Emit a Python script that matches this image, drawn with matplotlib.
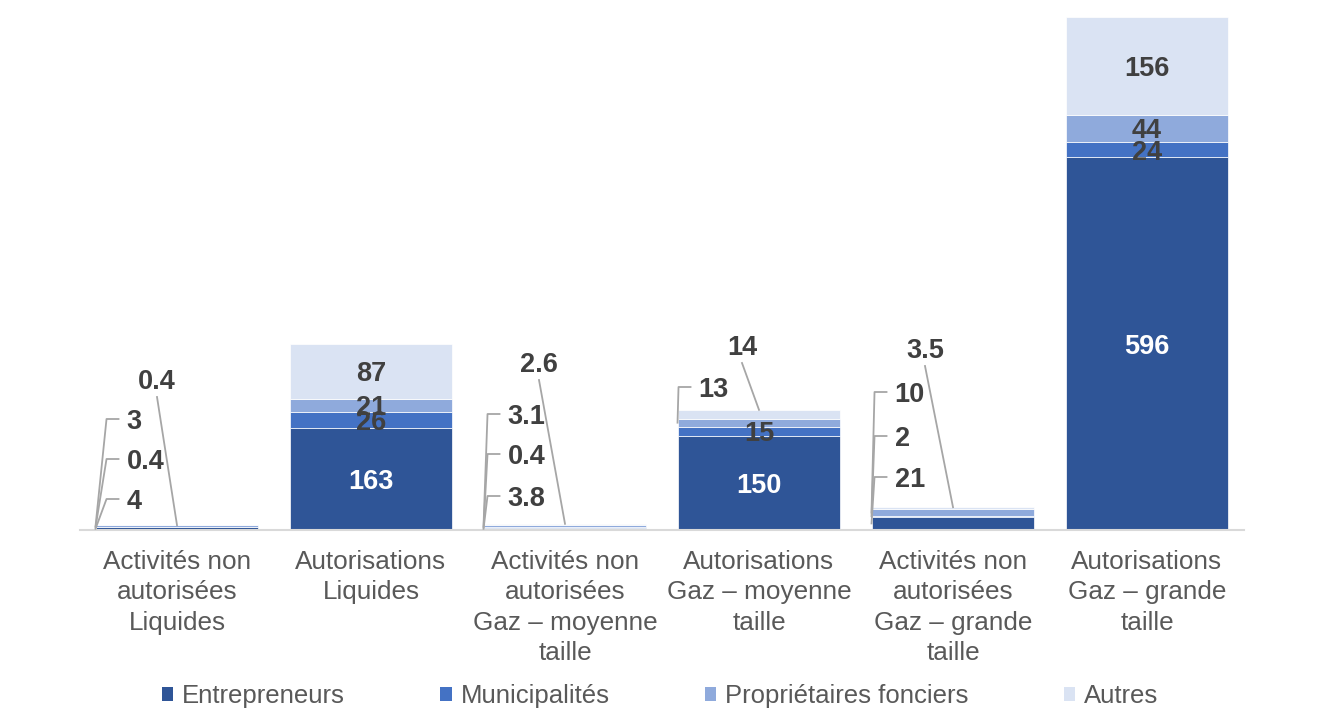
import matplotlib
matplotlib.use("Agg")
import matplotlib.pyplot as plt
from matplotlib.transforms import IdentityTransform
from matplotlib.patches import Patch
import numpy as np

categories = ["Activités non\nautorisées\nLiquides",
              "Autorisations\nLiquides",
              "Activités non\nautorisées\nGaz – moyenne\ntaille",
              "Autorisations\nGaz – moyenne\ntaille",
              "Activités non\nautorisées\nGaz – grande\ntaille",
              "Autorisations\nGaz – grande\ntaille"]
series_names = ["Entrepreneurs", "Municipalités", "Propriétaires fonciers", "Autres"]
entrepreneurs = [4, 163, 3.8, 150, 21, 596]
municipalites = [0.4, 26, 0.4, 15, 2, 24]
proprietaires = [3, 21, 3.1, 13, 10, 44]
autres = [0.4, 87, 2.6, 14, 3.5, 156]
colors = ["#2F5597", "#4472C4", "#8FAADC", "#DAE3F3"]

# callout layout (pixels): (bar, series) -> (style, dx, height above baseline)
callouts = {
    (0, 0): ("left", 31, 31), (0, 1): ("left", 31, 71), (0, 2): ("left", 31, 111), (0, 3): ("top", -20, 151),
    (2, 0): ("left", 24, 34), (2, 1): ("left", 24, 76), (2, 2): ("left", 24, 116), (2, 3): ("top", -26, 168),
    (3, 2): ("left", 21, 143), (3, 3): ("top", -17, 185),
    (4, 0): ("left", 23, 53), (4, 1): ("left", 23, 94), (4, 2): ("left", 23, 138), (4, 3): ("top", -28, 182),
}

plt.rcParams["font.family"] = ["Liberation Sans", "DejaVu Sans"]

W, H = 1320, 721
fig = plt.figure(figsize=(W / 100, H / 100), dpi=100)
ax = fig.add_axes([80 / W, (H - 530) / H, 1164 / W, 520 / H])

data = [entrepreneurs, municipalites, proprietaires, autres]
x = np.arange(len(categories))
width = 0.84
bottoms = np.zeros(len(categories))
seg_info = []
for s, vals in enumerate(data):
    vals = np.array(vals, dtype=float)
    ax.bar(x, vals, width, bottom=bottoms, color=colors[s], edgecolor="white",
           linewidth=0.5, label=series_names[s], zorder=2)
    seg_info.append((bottoms.copy(), vals))
    bottoms = bottoms + vals

ax.set_xlim(-0.5, 5.5)
ax.set_ylim(0, 831)
ax.set_yticks([])
for sp in ["left", "right", "top"]:
    ax.spines[sp].set_visible(False)
ax.spines["bottom"].set_color("#D9D9D9")
ax.spines["bottom"].set_linewidth(1.5)
ax.set_xticks(x)
ax.set_xticklabels(categories, fontsize=18.8, color="#595959", linespacing=1.33)
ax.tick_params(axis="x", length=0, pad=14.5)

fig.canvas.draw()
ident = IdentityTransform()
lab_color = "#404040"
line_color = "#A6A6A6"
base_y = ax.transData.transform((0, 0))[1]
fs_lab = 19.5

def fmt(v):
    return f"{v:g}"

for s in range(4):
    bot, vals = seg_info[s]
    for b in range(len(categories)):
        v = vals[b]
        mid = bot[b] + v / 2
        key = (b, s)
        if key in callouts:
            style, dx, up = callouts[key]
            ty = base_y + up
            if style == "left":
                ax_pt = ax.transData.transform((x[b] - width / 2, mid))
                tx = ax_pt[0] + dx
                ax.plot([ax_pt[0], tx - 20, tx - 8], [ax_pt[1], ty, ty], color=line_color,
                        lw=1.3, transform=ident, clip_on=False, zorder=3)
                ax.text(tx, ty, fmt(v), transform=ident, ha="left", va="center_baseline",
                        fontsize=fs_lab, fontweight="bold", color=lab_color)
            else:
                ax_pt = ax.transData.transform((x[b], bot[b] + v))
                tx = ax_pt[0] + dx
                ax.plot([tx, ax_pt[0]], [ty - 18, ax_pt[1]], color=line_color,
                        lw=1.3, transform=ident, clip_on=False, zorder=3)
                ax.text(tx, ty, fmt(v), transform=ident, ha="center", va="center_baseline",
                        fontsize=fs_lab, fontweight="bold", color=lab_color)
        else:
            c = "white" if s == 0 else lab_color
            ax.text(x[b], mid, fmt(v), ha="center", va="center_baseline", fontsize=fs_lab,
                    fontweight="bold", color=c, zorder=4)

handles = [Patch(facecolor=colors[i], edgecolor="none") for i in range(4)]
fig.legend(handles, series_names, loc="center", bbox_to_anchor=(0.5, 1 - 696 / H),
           ncol=4, frameon=False, fontsize=18.5, handlelength=0.45, handleheight=0.45,
           handletextpad=0.35, columnspacing=3.7, labelcolor="#595959")

fig.savefig("out.png", dpi=100)
